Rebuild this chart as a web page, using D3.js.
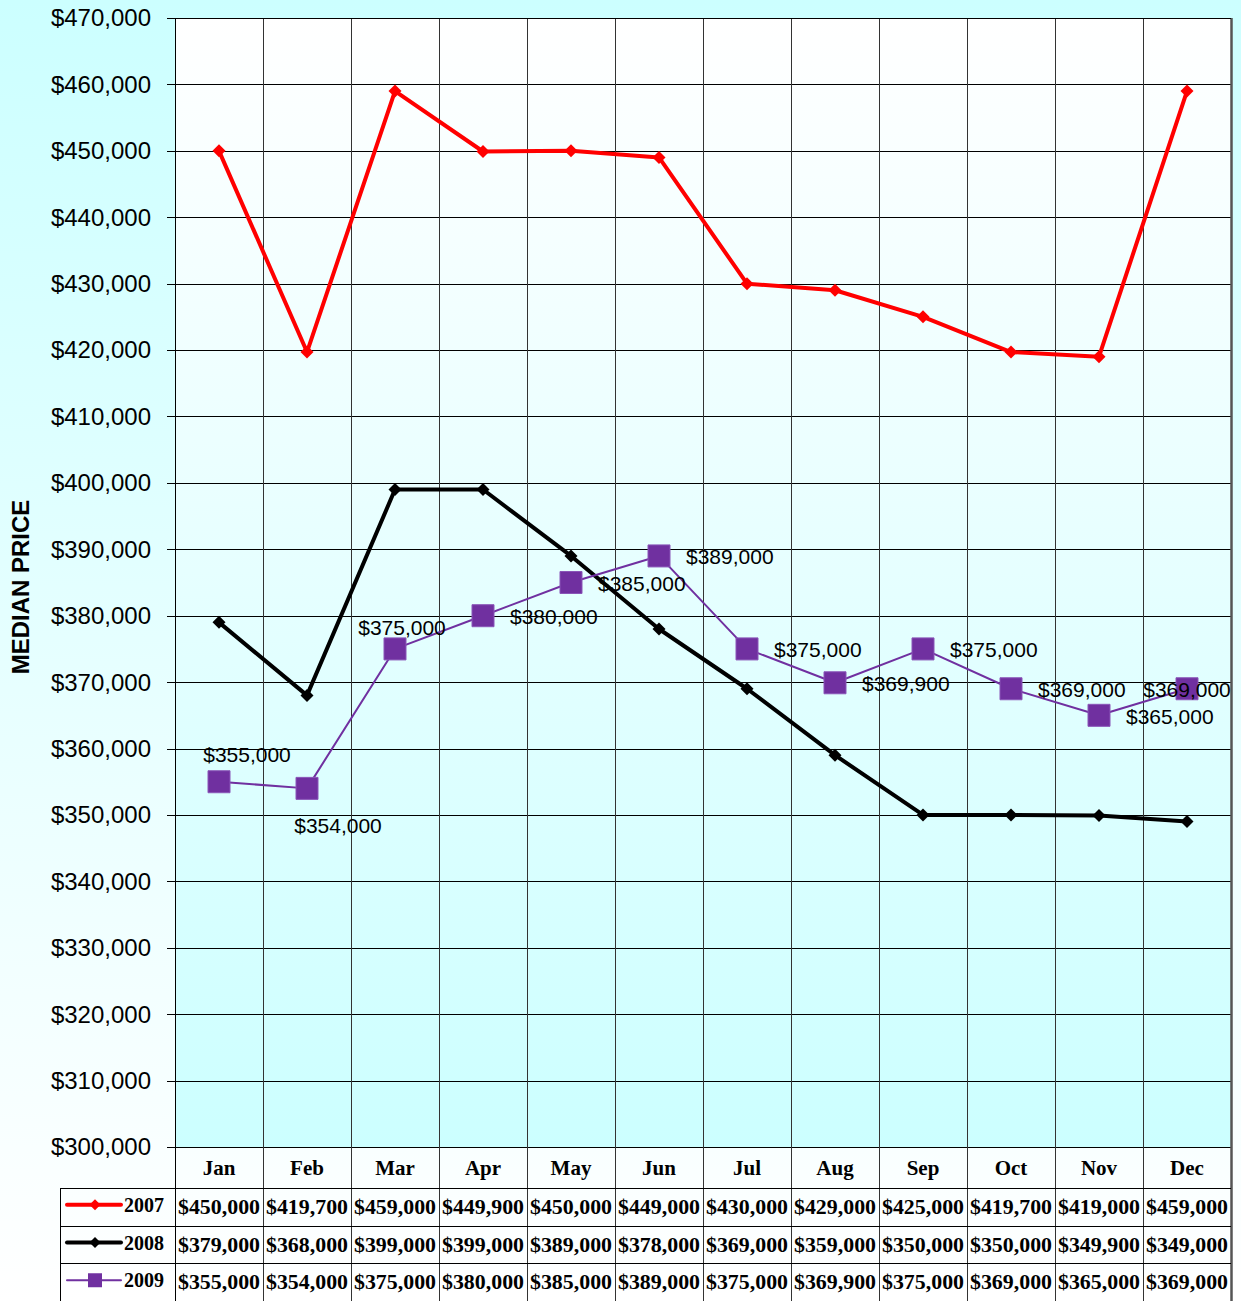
<!DOCTYPE html>
<html>
<head>
<meta charset="utf-8">
<script src="https://cdn.jsdelivr.net/npm/d3@7"></script>
<style>
  body { margin: 0; background: #fff; }
  svg { display: block; }
</style>
</head>
<body>
<svg id="chart" width="1241" height="1301"></svg>
<script>
// Data
const months = ['Jan', 'Feb', 'Mar', 'Apr', 'May', 'Jun', 'Jul', 'Aug', 'Sep', 'Oct', 'Nov', 'Dec'];
const years = ['2007', '2008', '2009'];
const prices2007 = [450000, 419700, 459000, 449900, 450000, 449000, 430000, 429000, 425000, 419700, 419000, 459000];
const prices2008 = [379000, 368000, 399000, 399000, 389000, 378000, 369000, 359000, 350000, 350000, 349900, 349000];
const prices2009 = [355000, 354000, 375000, 380000, 385000, 389000, 375000, 369900, 375000, 369000, 365000, 369000];
const yTicks = [300000, 310000, 320000, 330000, 340000, 350000, 360000, 370000, 380000, 390000, 400000, 410000, 420000, 430000, 440000, 450000, 460000, 470000];
// where each 2009 label sits relative to its marker
const labelPlace2009 = ['aboveRight', 'belowRight', 'above', 'right', 'right', 'right', 'right', 'right', 'right', 'right', 'right', 'center'];

const series = [
  { year: years[0], values: prices2007, color: '#ff0000', width: 4, marker: 'diamond', size: 13 },
  { year: years[1], values: prices2008, color: '#000000', width: 4, marker: 'diamond', size: 13 },
  { year: years[2], values: prices2009, color: '#7030a0', width: 2, marker: 'square', size: 22 },
];

// Layout
const layout = { left: 175, right: 1231, top: 18, bottom: 1147, rowH: 37.7, headH: 41 };
const svg = d3.select('#chart');
const defs = svg.append('defs');

const outerGrad = defs.append('linearGradient').attr('id', 'outerGrad')
  .attr('x1', 0).attr('y1', 0).attr('x2', 0).attr('y2', 1);
outerGrad.append('stop').attr('offset', '0%').attr('stop-color', '#ccffff');
outerGrad.append('stop').attr('offset', '100%').attr('stop-color', '#ffffff');

const plotGrad = defs.append('linearGradient').attr('id', 'plotGrad')
  .attr('x1', 0).attr('y1', 0).attr('x2', 0).attr('y2', 1);
plotGrad.append('stop').attr('offset', '0%').attr('stop-color', '#ffffff');
plotGrad.append('stop').attr('offset', '100%').attr('stop-color', '#ccffff');

svg.append('rect').attr('width', 1241).attr('height', 1301).attr('fill', 'url(#outerGrad)');

// Scales
const x = d3.scaleBand().domain(months).range([layout.left, layout.right]);
const y = d3.scaleLinear().domain([300000, 470000]).range([layout.bottom, layout.top]);
const cx = d => x(d) + x.bandwidth() / 2;

// Plot area
svg.append('rect')
  .attr('x', layout.left).attr('y', layout.top)
  .attr('width', layout.right - layout.left).attr('height', layout.bottom - layout.top)
  .attr('fill', 'url(#plotGrad)');

// Horizontal gridlines
svg.append('g').selectAll('line').data(yTicks).join('line')
  .attr('x1', layout.left - 8).attr('x2', layout.right)
  .attr('y1', d => Math.round(y(d)) + 0.5).attr('y2', d => Math.round(y(d)) + 0.5)
  .attr('stroke', '#000').attr('stroke-width', 1);

// Y axis labels
const fmt = d => '$' + d3.format(',')(d);
svg.append('g').selectAll('text').data(yTicks).join('text')
  .attr('x', 151).attr('y', d => y(d))
  .attr('dy', '0.35em')
  .attr('text-anchor', 'end')
  .attr('font-family', 'Liberation Sans, Arial, sans-serif')
  .attr('font-size', 24)
  .attr('fill', '#000')
  .text(fmt);

// Y axis title
svg.append('text')
  .attr('transform', `translate(29, ${587}) rotate(-90)`)
  .attr('text-anchor', 'middle')
  .attr('font-family', 'Liberation Sans, Arial, sans-serif')
  .attr('font-weight', 'bold')
  .attr('font-size', 24)
  .text('MEDIAN PRICE');

// Data table
const tableBottom = layout.bottom + layout.headH + layout.rowH * 3;
const rowY = i => layout.bottom + layout.headH + layout.rowH * i;

// vertical lines through plot and table
const vLines = months.map(m => x(m)).concat([layout.right]);
svg.append('g').selectAll('line').data(vLines).join('line')
  .attr('x1', d => Math.round(d) + 0.5).attr('x2', d => Math.round(d) + 0.5)
  .attr('y1', layout.top).attr('y2', tableBottom)
  .attr('stroke', (d, i) => i === 0 ? '#000' : (i === vLines.length - 1 ? '#555' : '#333'))
  .attr('stroke-width', (d, i) => i === vLines.length - 1 ? 2.5 : 1);

svg.append('line')
  .attr('x1', layout.left).attr('x2', layout.right)
  .attr('y1', layout.top + 0.5).attr('y2', layout.top + 0.5)
  .attr('stroke', '#000');

// table row lines
const rowLines = [0, 1, 2, 3].map(rowY);
svg.append('g').selectAll('line').data(rowLines).join('line')
  .attr('x1', 60).attr('x2', layout.right)
  .attr('y1', d => Math.round(d) + 0.5).attr('y2', d => Math.round(d) + 0.5)
  .attr('stroke', '#000');
svg.append('line')
  .attr('x1', 60.5).attr('x2', 60.5)
  .attr('y1', rowY(0)).attr('y2', tableBottom)
  .attr('stroke', '#000');

// month labels
svg.append('g').selectAll('text').data(months).join('text')
  .attr('x', cx).attr('y', layout.bottom + layout.headH / 2)
  .attr('dy', '0.35em')
  .attr('text-anchor', 'middle')
  .attr('font-family', 'Liberation Serif, Times New Roman, serif')
  .attr('font-weight', 'bold')
  .attr('font-size', 21)
  .text(d => d);

// table values
series.forEach((s, si) => {
  const g = svg.append('g');
  g.selectAll('text').data(s.values).join('text')
    .attr('x', (d, i) => cx(months[i])).attr('y', rowY(si) + layout.rowH / 2)
    .attr('dy', '0.35em')
    .attr('text-anchor', 'middle')
    .attr('font-family', 'Liberation Serif, Times New Roman, serif')
    .attr('font-weight', 'bold')
    .attr('font-size', 20)
    .attr('textLength', 82)
    .attr('lengthAdjust', 'spacingAndGlyphs')
    .text(fmt);

  // legend key
  const ly = rowY(si) + layout.rowH / 2 - 2;
  g.append('line')
    .attr('x1', 67).attr('x2', 121).attr('y1', ly).attr('y2', ly)
    .attr('stroke', s.color).attr('stroke-width', s.width)
    .attr('stroke-linecap', 'round');
  const lsize = s.marker === 'square' ? 14 : 9;
  g.append('path')
    .attr('transform', `translate(95, ${ly})`)
    .attr('d', s.marker === 'square'
      ? `M${-lsize / 2},${-lsize / 2}h${lsize}v${lsize}h${-lsize}Z`
      : `M0,${-lsize / 2 - 1}L${lsize / 2 + 1},0L0,${lsize / 2 + 1}L${-lsize / 2 - 1},0Z`)
    .attr('fill', s.color);
  g.append('text')
    .attr('x', 124).attr('y', ly)
    .attr('dy', '0.35em')
    .attr('font-family', 'Liberation Serif, Times New Roman, serif')
    .attr('font-weight', 'bold')
    .attr('font-size', 20)
    .text(s.year);
});

// Lines and markers
const line = d3.line()
  .x((d, i) => cx(months[i]))
  .y(d => y(d));

series.forEach(s => {
  const g = svg.append('g');
  g.append('path')
    .datum(s.values)
    .attr('d', line)
    .attr('fill', 'none')
    .attr('stroke', s.color)
    .attr('stroke-width', s.width)
    .attr('stroke-linejoin', 'round');

  g.selectAll('path.marker').data(s.values).join('path')
    .attr('class', 'marker')
    .attr('transform', (d, i) => `translate(${cx(months[i])}, ${y(d)})`)
    .attr('d', () => {
      const r = s.size / 2;
      return s.marker === 'square'
        ? `M${-r},${-r}h${s.size}v${s.size}h${-s.size}Z`
        : `M0,${-r}L${r},0L0,${r}L${-r},0Z`;
    })
    .attr('fill', s.color)
    .attr('stroke', s.marker === 'square' ? '#8a55b8' : 'none')
    .attr('stroke-width', 1);
});

// 2009 data labels
const labelOffset = {
  aboveRight: { dx: 28, dy: -27, anchor: 'middle' },
  belowRight: { dx: 31, dy: 37, anchor: 'middle' },
  above: { dx: 7, dy: -21, anchor: 'middle' },
  right: { dx: 27, dy: 1, anchor: 'start' },
  center: { dx: 0, dy: 1, anchor: 'middle' },
};
svg.append('g').selectAll('text').data(prices2009).join('text')
  .attr('x', (d, i) => cx(months[i]) + labelOffset[labelPlace2009[i]].dx)
  .attr('y', (d, i) => y(d) + labelOffset[labelPlace2009[i]].dy)
  .attr('dy', '0.35em')
  .attr('text-anchor', (d, i) => labelOffset[labelPlace2009[i]].anchor)
  .attr('font-family', 'Liberation Sans, Arial, sans-serif')
  .attr('font-size', 21)
  .attr('fill', '#000')
  .text(fmt);
</script>
</body>
</html>
